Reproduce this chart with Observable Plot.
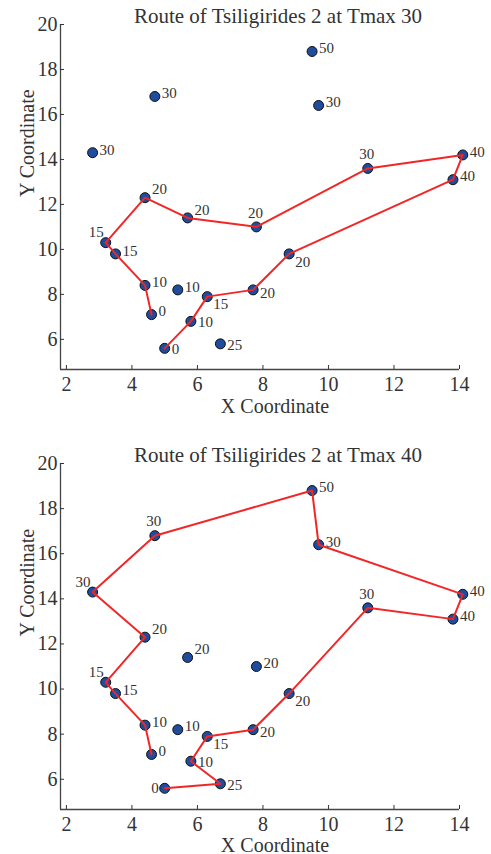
<!DOCTYPE html>
<html><head><meta charset="utf-8">
<script src="https://cdn.jsdelivr.net/npm/d3@7"></script>
<script src="https://cdn.jsdelivr.net/npm/@observablehq/plot@0.6"></script>
<style>body{margin:0;background:#fff;} svg{display:block} svg text{font-family:'Liberation Serif','Times New Roman',serif !important;}</style>
</head><body><div id="c"></div>
<script>
// Tsiligirides problem set 2 nodes
const nodeX = [4.6,5.7,4.4,2.8,3.2,3.5,4.4,7.8,8.8,7.7,6.3,5.4,5.8,6.7,13.8,14.1,11.2,9.7,9.5,4.7,5.0];
const nodeY = [7.1,11.4,12.3,14.3,10.3,9.8,8.4,11.0,9.8,8.2,7.9,8.2,6.8,5.8,13.1,14.2,13.6,16.4,18.8,16.8,5.6];
const nodeScore = [0,20,20,30,15,15,10,20,20,20,15,10,10,25,40,40,30,30,50,30,0];
// routes (node order)
const route30 = [0,6,5,4,2,1,7,16,15,14,8,9,10,12,20];
const route40 = [0,6,5,4,2,3,19,18,17,15,14,16,8,9,10,12,13,20];
// label placement codes per node
const labelSide30 = ["ur","uur","uur","ur","ul","ur","ur","u","dr","rd","dr","ur","r","r","ur","ur","u","ur","ur","ur","r"];
const labelSide40 = ["ur","uur","uur","ul","ul","ur","ur","ur","dr","rd","dr","ur","r","r","ur","ur","u","ur","ur","u","l"];
const xTicks = [2,4,6,8,10,12,14];
const yTicks = [6,8,10,12,14,16,18,20];
const titles = ["Route of Tsiligirides 2 at Tmax 30","Route of Tsiligirides 2 at Tmax 40"];
const xLabel = "X Coordinate";
const yLabel = "Y Coordinate";

const xDomain = [1.82, 14];
const yDomain = [4.66, 20];
const textColor = "#333";
const serif = "'Liberation Serif', 'Times New Roman', serif";
const sideStyle = {
  r:   {textAnchor:"start",  dx:7,  dy:1},
  ur:  {textAnchor:"start",  dx:7,  dy:-3},
  uur: {textAnchor:"start",  dx:7,  dy:-8},
  u:   {textAnchor:"middle", dx:-1, dy:-14},
  ul:  {textAnchor:"end",    dx:-2, dy:-10},
  dr:  {textAnchor:"start",  dx:6,  dy:8},
  rd:  {textAnchor:"start",  dx:7,  dy:3},
  l:   {textAnchor:"end",    dx:-6, dy:0}
};

function chart(route, sides, title, height, marginBottom, xLabelDy) {
  const nodes = nodeX.map((x, i) => ({x, y: nodeY[i], score: nodeScore[i], side: sides[i]}));
  const path = route.map(i => nodes[i]);
  const labelMarks = Object.entries(sideStyle).map(([code, st]) =>
    Plot.text(nodes.filter(d => d.side === code), {
      x: "x", y: "y", text: d => String(d.score),
      fontSize: 15, fontFamily: serif, fill: textColor, ...st
    }));
  return Plot.plot({
    width: 491, height,
    marginLeft: 60, marginRight: 32, marginTop: 24, marginBottom,
    style: {fontFamily: serif, background: "#fff", color: textColor},
    x: {domain: xDomain},
    y: {domain: yDomain},
    marks: [
      Plot.ruleX([xDomain[0]], {stroke: "#444", strokeWidth: 1.3}),
      Plot.ruleY([yDomain[0]], {stroke: "#444", strokeWidth: 1.3}),
      Plot.axisX({ticks: xTicks, tickSize: -4, tickPadding: 11, fontSize: 20, fontFamily: serif, label: null, color: textColor}),
      Plot.axisY({ticks: yTicks, tickSize: -4, tickPadding: 7, fontSize: 20, fontFamily: serif, label: null, color: textColor}),
      Plot.dot(nodes, {x: "x", y: "y", r: 5, fill: "#1f4c9c", stroke: "#111", strokeWidth: 1}),
      Plot.line(path, {x: "x", y: "y", stroke: "#f22626", strokeWidth: 2}),
      ...labelMarks,
      Plot.text([title], {frameAnchor: "top", dx: 18, dy: -2, lineAnchor: "bottom", fontSize: 21, fontFamily: serif, fill: textColor}),
      Plot.text([xLabel], {frameAnchor: "bottom", dx: 15, dy: xLabelDy, lineAnchor: "bottom", fontSize: 20, fontFamily: serif, fill: textColor}),
      Plot.text([yLabel], {frameAnchor: "left", rotate: -90, dx: -27, lineAnchor: "bottom", fontSize: 20, fontFamily: serif, fill: textColor})
    ]
  });
}

const c = document.getElementById("c");
c.appendChild(chart(route30, labelSide30, titles[0], 439, 70, 43));
c.appendChild(chart(route40, labelSide40, titles[1], 415, 45, 42));
</script>
</body></html>
